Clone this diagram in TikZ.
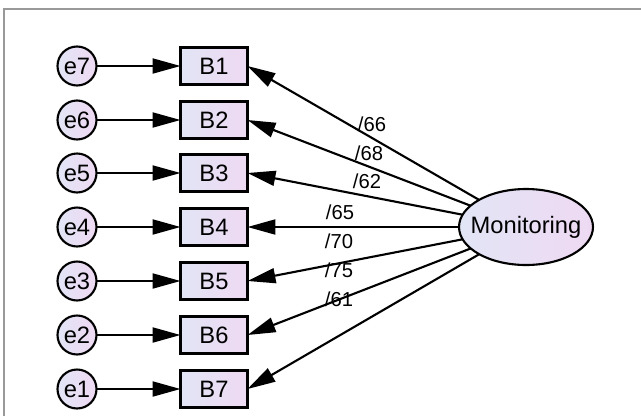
\documentclass[tikz,border=0pt]{standalone}
\usepackage{fontspec}
\setmainfont{Liberation Sans}
\usetikzlibrary{shapes.geometric,arrows.meta}
\definecolor{lavleft}{RGB}{226,229,245}
\definecolor{lavright}{RGB}{238,217,243}
\begin{document}
\begin{tikzpicture}[x={(0.02cm,0cm)},y={(0cm,-0.02cm)},every node/.style={outer sep=0pt},
  errvar/.style={circle,draw,line width=1.2pt,minimum size=0.78cm,inner sep=0pt,left color=lavleft,right color=lavright,font=\fontsize{13.5}{15}\selectfont},
  item/.style={rectangle,draw,line width=1.4pt,minimum width=1.34cm,minimum height=0.74cm,inner sep=0pt,left color=lavleft,right color=lavright,font=\fontsize{13.5}{15}\selectfont},
  latent/.style={ellipse,draw,line width=1.2pt,minimum width=2.68cm,minimum height=1.52cm,inner sep=0pt,left color=lavleft,right color=lavright,font=\fontsize{13.5}{15}\selectfont},
  path/.style={line width=1.2pt,-{Triangle[length=0.56cm,width=0.3cm]}},
  load/.style={font=\fontsize{11.5}{13}\selectfont,inner sep=0pt}]

\useasboundingbox (0,0) rectangle (641,416);
\draw[color=black!40,line width=1pt] (4,416) -- (4,9) -- (641,9);

\node[errvar] (e7) at (77,66) {e7};
\node[errvar] (e6) at (77,120) {e6};
\node[errvar] (e5) at (77,173) {e5};
\node[errvar] (e4) at (77,227) {e4};
\node[errvar] (e3) at (77,281) {e3};
\node[errvar] (e2) at (77,335) {e2};
\node[errvar] (e1) at (77,389) {e1};

\node[item] (b1) at (214,66) {B1};
\node[item] (b2) at (214,120) {B2};
\node[item] (b3) at (214,173) {B3};
\node[item] (b4) at (214,227) {B4};
\node[item] (b5) at (214,281) {B5};
\node[item] (b6) at (214,335) {B6};
\node[item] (b7) at (214,389) {B7};

\node[latent] (mon) at (526,227) {\makebox[0pt]{Monitoring}};

\draw[path] (e7) -- (b1);
\draw[path] (e6) -- (b2);
\draw[path] (e5) -- (b3);
\draw[path] (e4) -- (b4);
\draw[path] (e3) -- (b5);
\draw[path] (e2) -- (b6);
\draw[path] (e1) -- (b7);

\draw[path] (mon) -- (b1.east);
\draw[path] (mon) -- (b2.east);
\draw[path] (mon) -- (b3.east);
\draw[path] (mon) -- (b4.east);
\draw[path] (mon) -- (b5.east);
\draw[path] (mon) -- (b6.east);
\draw[path] (mon) -- (b7.east);

\node[load] (l1) at (372,124) {/66};
\node[load] (l2) at (369,153) {/68};
\node[load] (l3) at (367,181) {/62};
\node[load] (l4) at (340,212) {/65};
\node[load] (l5) at (339,241) {/70};
\node[load] (l6) at (339,270) {/75};
\node[load] (l7) at (339,299) {/61};
\end{tikzpicture}
\end{document}
